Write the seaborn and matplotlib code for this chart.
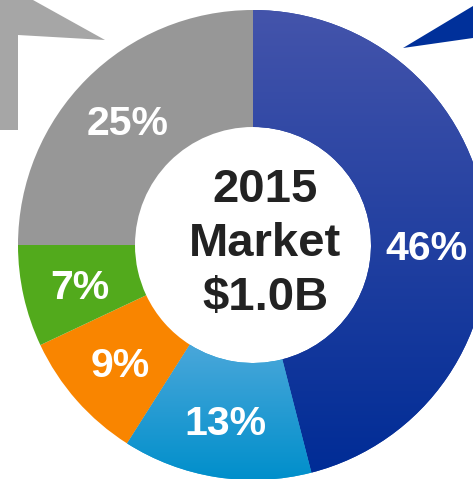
import numpy as np
import matplotlib
matplotlib.use("Agg")
import matplotlib.pyplot as plt
from matplotlib.colors import LinearSegmentedColormap
from matplotlib.patches import Polygon
import seaborn as sns

# ---- data ----
segments = ["A", "B", "C", "D", "E"]
shares = [46, 13, 9, 7, 25]
colors = ["#1a3a9e", "#1b9ad3", "#f98500", "#52aa1c", "#979797"]
gradients = {0: ("#4454ab", "#002c96"), 1: ("#4aa7da", "#008fcb")}
center_lines = ["2015", "Market", "$1.0B"]

sns.set_theme(style="white")
plt.rcParams["font.family"] = ["Liberation Sans", "DejaVu Sans"]

W, H = 473, 479
fig = plt.figure(figsize=(W / 100, H / 100), dpi=100)
ax = fig.add_axes([0, 0, 1, 1])

cx, cy, R = 253, H - 245, 235
ring = 117

wedges, texts, autotexts = ax.pie(
    shares, colors=colors, startangle=90, counterclock=False,
    center=(cx, cy), radius=R, wedgeprops=dict(width=ring, linewidth=0),
    autopct=lambda p: f"{p:.0f}%", pctdistance=0.755,
    textprops=dict(color="white", fontsize=29.5, fontweight="bold"),
    frame=True)
ax.set_xlim(0, W)
ax.set_ylim(0, H)
ax.set_aspect("equal")
ax.axis("off")

for t in autotexts:
    t.set_va("center_baseline")
# largest slice label sits on the horizontal through the centre
autotexts[0].set_position((cx + 0.737 * R, cy))

# vertical gradients on blue slices
for idx, (c_top, c_bot) in gradients.items():
    w = wedges[idx]
    bb = w.get_path().get_extents(w.get_patch_transform())
    cmap = LinearSegmentedColormap.from_list("g", [c_bot, c_top])
    grad = np.linspace(0, 1, 256).reshape(-1, 1)
    im = ax.imshow(grad, cmap=cmap, aspect="auto", origin="lower",
                   extent=(bb.x0, bb.x1, bb.y0, bb.y1), zorder=w.get_zorder())
    im.set_clip_path(w)
for t in autotexts:
    t.set_zorder(5)

ax.text(cx + 12, cy + 1, "\n".join(center_lines), ha="center", va="center",
        fontsize=34, fontweight="bold", color="#222222", linespacing=1.29,
        zorder=6)

# decorative arrows at the top corners
gray_arrow = [(0, 0), (33, 0), (105, 40), (18, 35), (18, 130), (0, 130)]
blue_arrow = [(403, 48), (473, 6), (473, 38)]
for pts, col in [(gray_arrow, "#a6a6a6"), (blue_arrow, "#00309a")]:
    ax.add_patch(Polygon([(x, H - y) for x, y in pts], closed=True,
                         facecolor=col, edgecolor="none", zorder=1))

ax.set_xlim(0, W)
ax.set_ylim(0, H)
fig.savefig("out.png", dpi=100)
